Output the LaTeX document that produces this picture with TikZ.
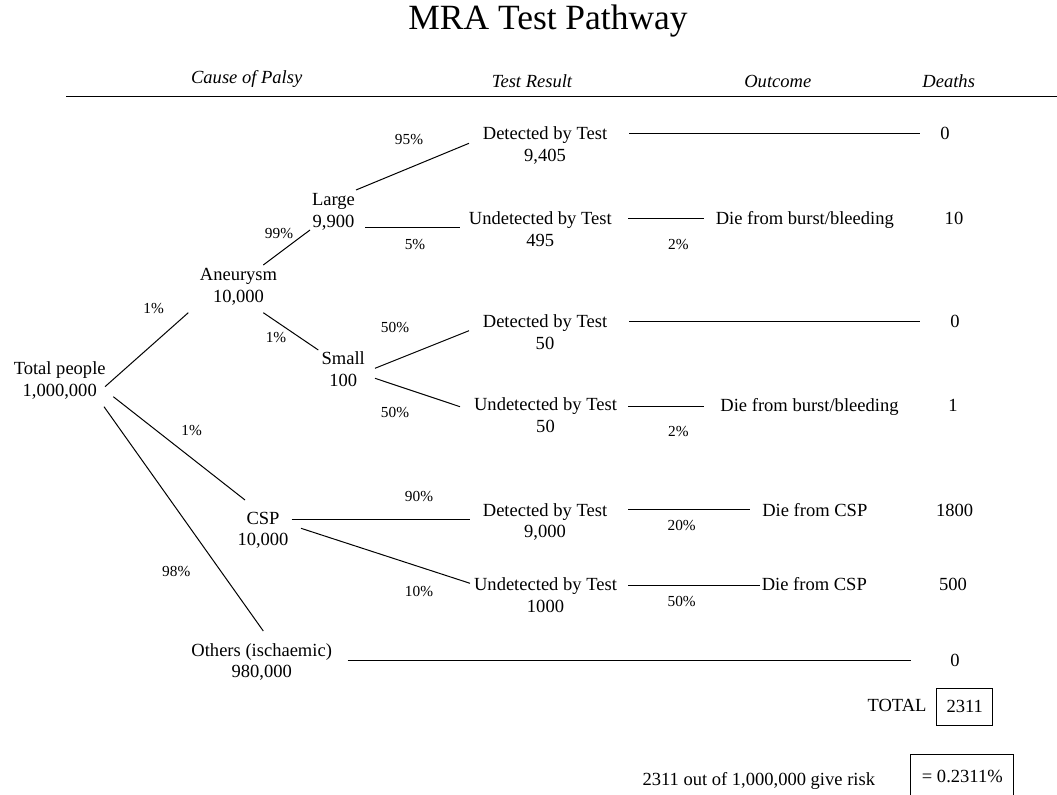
\documentclass[tikz,border=0pt]{standalone}
\usepackage{fontspec}
\setmainfont{Liberation Serif}
\begin{document}
\begin{tikzpicture}[x=0.75pt,y=-0.75pt,
  tree/.style={inner sep=0pt, font=\fontsize{13.9}{16.3}\selectfont, align=center, anchor=center},
  lbl/.style={inner sep=0pt, font=\fontsize{13.9}{16.3}\selectfont, anchor=base},
  pct/.style={inner sep=0pt, font=\fontsize{11.5}{13}\selectfont, anchor=base},
  hdr/.style={inner sep=0pt, font=\fontsize{13.9}{16}\selectfont\itshape, anchor=base},
  conn/.style={line width=0.75pt},
  boxed/.style={draw, line width=0.75pt, inner sep=0pt, font=\fontsize{13.9}{16.3}\selectfont}]
\useasboundingbox (0,0) rectangle (1057,795);

% title and headers
\node[inner sep=0pt, anchor=base, font=\fontsize{26.6}{30}\selectfont] (title) at (548,30) {MRA Test Pathway};
\node[hdr] (hcause) at (246.7,83.3) {Cause of Palsy};
\node[hdr] (htest) at (532,87.7) {Test Result};
\node[hdr] (hout) at (777.8,87.7) {Outcome};
\node[hdr] (hdeath) at (948.7,87.7) {Deaths};
\coordinate (ruleL) at (66,96.7);
\coordinate (ruleR) at (1057,96.7);
\draw[line width=1pt] (ruleL) -- (ruleR);

% tree nodes
\node[tree] (total) at (59.7,380.3) {Total people\\1,000,000};
\node[tree] (aneu) at (238.5,287) {Aneurysm\\10,000};
\node[tree] (large) at (333.5,212) {Large\\9,900};
\node[tree] (small) at (343.2,368.8) {Small\\100};
\node[tree] (csp) at (263,530.3) {CSP\\10,000};
\node[tree] (others) at (261.7,662) {Others (ischaemic)\\980,000};
\node[tree] (det1) at (545,145.3) {Detected by Test\\9,405};
\node[tree] (und1) at (540.3,228.8) {Undetected by Test\\495};
\node[tree] (det2) at (545,332.2) {Detected by Test\\50};
\node[tree] (und2) at (545.5,415.5) {Undetected by Test\\50};
\node[tree] (det3) at (545,522) {Detected by Test\\9,000};
\node[tree] (und3) at (545.5,595.5) {Undetected by Test\\1000};

% outcomes
\node[lbl] (o1) at (804.8,224.3) {Die from burst/bleeding};
\node[lbl] (o2) at (809.5,411) {Die from burst/bleeding};
\node[lbl] (o3) at (814.8,516) {Die from CSP};
\node[lbl] (o4) at (814.3,590.3) {Die from CSP};

% deaths
\node[lbl] (z1) at (945,139.3) {0};
\node[lbl] (d10) at (954,224.3) {10};
\node[lbl] (z2) at (955,327.7) {0};
\node[lbl] (d1) at (953,411) {1};
\node[lbl] (d1800) at (954.7,516) {1800};
\node[lbl] (d500) at (953,590.3) {500};
\node[lbl] (z3) at (955,666) {0};

% connectors
\draw[conn] ([shift={(45.3,6.4)}]total.center) -- ([shift={(-50.2,25.7)}]aneu.center);
\draw[conn] ([shift={(24.8,-22)}]aneu.center) -- ([shift={(-23.5,18)}]large.center);
\draw[conn] ([shift={(24.8,25.7)}]aneu.center) -- ([shift={(-24.9,-18.8)}]small.center);
\draw[conn] ([shift={(22.5,-22)}]large.center) -- ([shift={(-76,-2)}]det1.center);
\draw[conn] ([shift={(31.5,15.7)}]large.center) -- ([shift={(-80.3,-1.1)}]und1.center);
\draw[conn] ([shift={(31.8,-0.5)}]small.center) -- ([shift={(-76,-1.5)}]det2.center);
\draw[conn] ([shift={(31.8,9.5)}]small.center) -- ([shift={(-85.5,-8.8)}]und2.center);
\draw[conn] ([shift={(53.6,16.4)}]total.center) -- ([shift={(-18,-30.3)}]csp.center);
\draw[conn] ([shift={(44.3,26.4)}]total.center) -- ([shift={(1.6,-31)}]others.center);
\draw[conn] ([shift={(28.7,-11.3)}]csp.center) -- ([shift={(-75,-3)}]det3.center);
\draw[conn] ([shift={(38,-2)}]csp.center) -- ([shift={(-75.5,-12.2)}]und3.center);
\draw[conn] ([shift={(84.3,-11.3)}]det1.center) -- ([shift={(-24.7,-5.3)}]z1.base);
\draw[conn] ([shift={(88,-9.8)}]und1.center) -- ([shift={(-100.8,-5.3)}]o1.base);
\draw[conn] ([shift={(84.3,-10.5)}]det2.center) -- ([shift={(-34.7,-6)}]z2.base);
\draw[conn] ([shift={(82.8,-9.5)}]und2.center) -- ([shift={(-105.5,-5)}]o2.base);
\draw[conn] ([shift={(83.3,-12.7)}]det3.center) -- ([shift={(-64.5,-6.7)}]o3.base);
\draw[conn] ([shift={(82.8,-10.5)}]und3.center) -- ([shift={(-54.3,-5.3)}]o4.base);
\draw[conn] ([shift={(86,-2)}]others.center) -- ([shift={(-43.7,-6)}]z3.base);

% percentages
\node[pct] (p95) at (409,145) {95\%};
\node[pct] (p99) at (279,238.3) {99\%};
\node[pct] (p5) at (415,249) {5\%};
\node[pct] (p2a) at (678.3,249) {2\%};
\node[pct] (p1a) at (153.7,313.3) {1\%};
\node[pct] (p1b) at (276,342.7) {1\%};
\node[pct] (p50a) at (395,332.3) {50\%};
\node[pct] (p50b) at (395,417.7) {50\%};
\node[pct] (p2b) at (678.3,436.7) {2\%};
\node[pct] (p1c) at (191.7,435) {1\%};
\node[pct] (p90) at (419,501.7) {90\%};
\node[pct] (p20) at (681.7,530) {20\%};
\node[pct] (p98) at (176.3,576.7) {98\%};
\node[pct] (p10) at (419,596) {10\%};
\node[pct] (p50c) at (681.7,606) {50\%};

% totals
\node[lbl] (totlbl) at (897,711) {TOTAL};
\node[boxed, minimum width=42pt, minimum height=27.5pt] (totbox) at (964.7,706.7) {2311};
\node[lbl] (risk) at (758.8,785) {2311 out of 1,000,000 give risk};
\node[boxed, anchor=north, minimum width=77.5pt, minimum height=33pt] (riskbox) at (962.3,754) {= 0.2311\%};
\end{tikzpicture}
\end{document}
